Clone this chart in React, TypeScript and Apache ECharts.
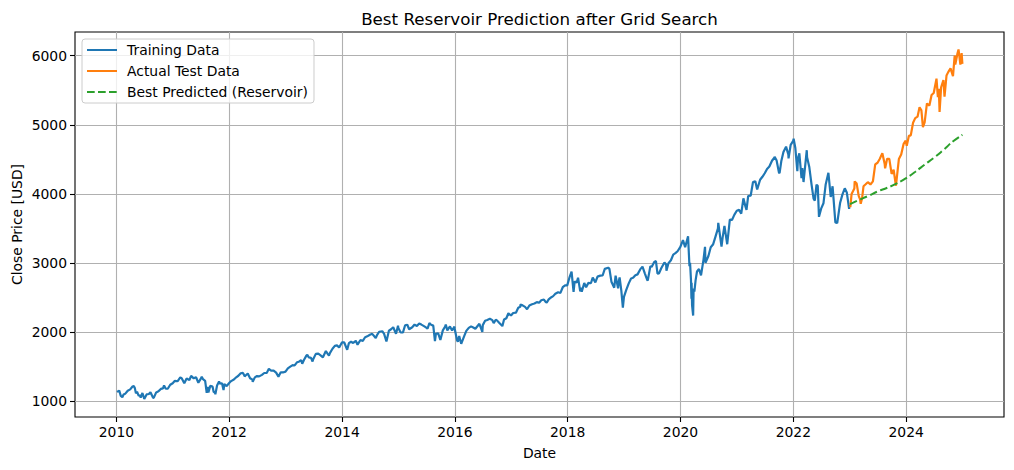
import React, { useEffect, useRef } from "react";
import * as echarts from "echarts";

const TITLE = "Best Reservoir Prediction after Grid Search";
const X_LABEL = "Date";
const Y_LABEL = "Close Price [USD]";
const X_TICKS = [2010, 2012, 2014, 2016, 2018, 2020, 2022, 2024];
const Y_TICKS = [1000, 2000, 3000, 4000, 5000, 6000];
const SERIES_NAMES = ["Training Data", "Actual Test Data", "Best Predicted (Reservoir)"];

const trainingData: [string, number][] = [
  ["2010-01-04", 1133], ["2010-01-19", 1150], ["2010-01-29", 1074], ["2010-02-08", 1056], ["2010-02-16", 1094], ["2010-02-26", 1104],
  ["2010-03-15", 1150], ["2010-03-31", 1169], ["2010-04-15", 1211], ["2010-04-23", 1217], ["2010-04-30", 1187], ["2010-05-07", 1111],
  ["2010-05-14", 1136], ["2010-05-25", 1074], ["2010-05-31", 1089], ["2010-06-07", 1050], ["2010-06-18", 1117], ["2010-06-30", 1031],
  ["2010-07-02", 1022], ["2010-07-15", 1096], ["2010-07-30", 1102], ["2010-08-09", 1128], ["2010-08-26", 1047], ["2010-08-31", 1049],
  ["2010-09-15", 1125], ["2010-09-30", 1141], ["2010-10-15", 1176], ["2010-10-29", 1183], ["2010-11-05", 1225], ["2010-11-16", 1178],
  ["2010-11-30", 1181], ["2010-12-15", 1236], ["2010-12-31", 1258],
  ["2011-01-14", 1293], ["2011-01-31", 1286], ["2011-02-18", 1343], ["2011-02-28", 1327], ["2011-03-16", 1257], ["2011-03-31", 1326],
  ["2011-04-18", 1305], ["2011-04-29", 1364], ["2011-05-16", 1329], ["2011-05-31", 1345], ["2011-06-15", 1265], ["2011-06-30", 1321],
  ["2011-07-07", 1353], ["2011-07-15", 1316], ["2011-07-29", 1292], ["2011-08-08", 1119], ["2011-08-15", 1204], ["2011-08-19", 1124],
  ["2011-08-31", 1219], ["2011-09-15", 1209], ["2011-09-22", 1130], ["2011-09-30", 1131], ["2011-10-03", 1099], ["2011-10-14", 1225],
  ["2011-10-27", 1285], ["2011-10-31", 1253], ["2011-11-15", 1258], ["2011-11-25", 1159], ["2011-11-30", 1247], ["2011-12-15", 1216],
  ["2011-12-30", 1258],
  ["2012-01-13", 1289], ["2012-01-31", 1312], ["2012-02-15", 1344], ["2012-02-29", 1366], ["2012-03-15", 1402], ["2012-03-30", 1408],
  ["2012-04-10", 1358], ["2012-04-16", 1370], ["2012-04-30", 1398], ["2012-05-15", 1331], ["2012-05-31", 1310], ["2012-06-01", 1278],
  ["2012-06-15", 1343], ["2012-06-29", 1362], ["2012-07-13", 1357], ["2012-07-31", 1379], ["2012-08-15", 1406], ["2012-08-31", 1407],
  ["2012-09-14", 1466], ["2012-09-28", 1441], ["2012-10-15", 1441], ["2012-10-31", 1412], ["2012-11-15", 1353], ["2012-11-30", 1416],
  ["2012-12-14", 1414], ["2012-12-31", 1426],
  ["2013-01-15", 1473], ["2013-01-31", 1498], ["2013-02-15", 1520], ["2013-02-28", 1515], ["2013-03-15", 1561], ["2013-03-28", 1569],
  ["2013-04-11", 1593], ["2013-04-18", 1541], ["2013-04-30", 1598], ["2013-05-15", 1658], ["2013-05-21", 1669], ["2013-05-31", 1631],
  ["2013-06-14", 1626], ["2013-06-24", 1573], ["2013-06-28", 1606], ["2013-07-15", 1683], ["2013-07-31", 1686], ["2013-08-15", 1661],
  ["2013-08-30", 1633], ["2013-09-18", 1725], ["2013-09-30", 1682], ["2013-10-08", 1656], ["2013-10-15", 1698], ["2013-10-31", 1757],
  ["2013-11-15", 1798], ["2013-11-29", 1806], ["2013-12-13", 1775], ["2013-12-31", 1848],
  ["2014-01-15", 1848], ["2014-02-03", 1742], ["2014-02-14", 1838], ["2014-02-28", 1859], ["2014-03-14", 1841], ["2014-03-31", 1872],
  ["2014-04-11", 1816], ["2014-04-30", 1884], ["2014-05-15", 1870], ["2014-05-30", 1924], ["2014-06-13", 1937], ["2014-06-30", 1960],
  ["2014-07-15", 1973], ["2014-07-31", 1931], ["2014-08-07", 1910], ["2014-08-15", 1955], ["2014-08-29", 2003], ["2014-09-18", 2011],
  ["2014-09-30", 1972], ["2014-10-15", 1862], ["2014-10-31", 2018], ["2014-11-14", 2039], ["2014-11-28", 2068], ["2014-12-16", 1973],
  ["2014-12-29", 2091], ["2014-12-31", 2059],
  ["2015-01-15", 1992], ["2015-01-30", 1995], ["2015-02-13", 2097], ["2015-02-27", 2105], ["2015-03-11", 2040], ["2015-03-31", 2068],
  ["2015-04-15", 2107], ["2015-04-30", 2086], ["2015-05-15", 2123], ["2015-05-29", 2107], ["2015-06-15", 2085], ["2015-06-30", 2063],
  ["2015-07-08", 2047], ["2015-07-20", 2128], ["2015-07-31", 2104], ["2015-08-14", 2092], ["2015-08-25", 1868], ["2015-08-31", 1972],
  ["2015-09-15", 1979], ["2015-09-29", 1884], ["2015-10-15", 2023], ["2015-10-30", 2079], ["2015-11-03", 2109], ["2015-11-13", 2023],
  ["2015-11-30", 2080], ["2015-12-14", 2022], ["2015-12-29", 2078], ["2015-12-31", 2044],
  ["2016-01-15", 1880], ["2016-01-20", 1859], ["2016-01-29", 1940], ["2016-02-11", 1829], ["2016-02-29", 1932], ["2016-03-15", 2015],
  ["2016-03-31", 2060], ["2016-04-15", 2081], ["2016-04-29", 2065], ["2016-05-13", 2047], ["2016-05-31", 2097], ["2016-06-08", 2119],
  ["2016-06-27", 2001], ["2016-06-30", 2099], ["2016-07-15", 2162], ["2016-07-29", 2174], ["2016-08-15", 2191], ["2016-08-31", 2171],
  ["2016-09-09", 2128], ["2016-09-22", 2177], ["2016-09-30", 2168], ["2016-10-14", 2133], ["2016-11-04", 2085], ["2016-11-15", 2180],
  ["2016-11-30", 2199], ["2016-12-13", 2271], ["2016-12-30", 2239],
  ["2017-01-13", 2275], ["2017-01-31", 2279], ["2017-02-15", 2350], ["2017-02-28", 2364], ["2017-03-01", 2396], ["2017-03-15", 2385],
  ["2017-03-31", 2363], ["2017-04-13", 2329], ["2017-04-28", 2384], ["2017-05-15", 2402], ["2017-05-31", 2412], ["2017-06-15", 2432],
  ["2017-06-30", 2423], ["2017-07-14", 2459], ["2017-07-31", 2470], ["2017-08-10", 2438], ["2017-08-18", 2426], ["2017-08-31", 2472],
  ["2017-09-15", 2500], ["2017-09-29", 2519], ["2017-10-13", 2553], ["2017-10-31", 2575], ["2017-11-15", 2565], ["2017-11-30", 2648],
  ["2017-12-15", 2676], ["2017-12-29", 2674],
  ["2018-01-12", 2786], ["2018-01-26", 2873], ["2018-02-08", 2581], ["2018-02-15", 2732], ["2018-02-28", 2714], ["2018-03-09", 2786],
  ["2018-03-23", 2588], ["2018-03-29", 2641], ["2018-04-02", 2582], ["2018-04-18", 2708], ["2018-04-30", 2648], ["2018-05-15", 2711],
  ["2018-05-31", 2705], ["2018-06-12", 2787], ["2018-06-29", 2718], ["2018-07-13", 2801], ["2018-07-31", 2816], ["2018-08-15", 2818],
  ["2018-08-29", 2914], ["2018-09-20", 2931], ["2018-09-28", 2914], ["2018-10-11", 2728], ["2018-10-29", 2641], ["2018-11-07", 2814],
  ["2018-11-23", 2633], ["2018-11-30", 2760], ["2018-12-03", 2790], ["2018-12-14", 2600], ["2018-12-24", 2351], ["2018-12-31", 2507],
  ["2019-01-15", 2610], ["2019-01-31", 2704], ["2019-02-15", 2775], ["2019-02-28", 2784], ["2019-03-15", 2822], ["2019-03-29", 2834],
  ["2019-04-15", 2906], ["2019-04-30", 2946], ["2019-05-15", 2850], ["2019-05-31", 2752], ["2019-06-03", 2744], ["2019-06-20", 2954],
  ["2019-06-28", 2942], ["2019-07-15", 3014], ["2019-07-26", 3026], ["2019-08-05", 2845], ["2019-08-15", 2848], ["2019-08-30", 2926],
  ["2019-09-19", 3006], ["2019-09-30", 2977], ["2019-10-02", 2888], ["2019-10-15", 2996], ["2019-10-31", 3038], ["2019-11-15", 3120],
  ["2019-11-29", 3141], ["2019-12-13", 3169], ["2019-12-31", 3231],
  ["2020-01-17", 3330], ["2020-01-31", 3226], ["2020-02-19", 3386], ["2020-02-28", 2954], ["2020-03-03", 3003], ["2020-03-09", 2747],
  ["2020-03-12", 2481], ["2020-03-13", 2711], ["2020-03-16", 2386], ["2020-03-23", 2237], ["2020-03-26", 2630], ["2020-03-31", 2585],
  ["2020-04-08", 2750], ["2020-04-17", 2875], ["2020-04-30", 2912], ["2020-05-13", 2820], ["2020-05-29", 3044], ["2020-06-08", 3232],
  ["2020-06-11", 3002], ["2020-06-30", 3100], ["2020-07-15", 3227], ["2020-07-31", 3271], ["2020-08-14", 3373], ["2020-08-31", 3500],
  ["2020-09-02", 3580], ["2020-09-23", 3237], ["2020-09-30", 3363], ["2020-10-12", 3535], ["2020-10-30", 3270], ["2020-11-16", 3627],
  ["2020-11-30", 3622], ["2020-12-15", 3695], ["2020-12-31", 3756],
  ["2021-01-15", 3768], ["2021-01-29", 3714], ["2021-02-12", 3934], ["2021-02-26", 3811], ["2021-03-04", 3768], ["2021-03-15", 3969],
  ["2021-03-31", 3973], ["2021-04-15", 4170], ["2021-04-30", 4181], ["2021-05-12", 4063], ["2021-05-31", 4204], ["2021-06-15", 4247],
  ["2021-06-30", 4298], ["2021-07-15", 4360], ["2021-07-30", 4395], ["2021-08-16", 4479], ["2021-08-31", 4523], ["2021-09-02", 4537],
  ["2021-09-15", 4481], ["2021-09-30", 4308], ["2021-10-04", 4301], ["2021-10-15", 4471], ["2021-10-29", 4605], ["2021-11-15", 4683],
  ["2021-11-30", 4567], ["2021-12-01", 4513], ["2021-12-15", 4710], ["2021-12-31", 4766],
  ["2022-01-03", 4797], ["2022-01-14", 4663], ["2022-01-27", 4327], ["2022-01-31", 4516], ["2022-02-09", 4587], ["2022-02-23", 4226],
  ["2022-02-28", 4374], ["2022-03-08", 4171], ["2022-03-29", 4632], ["2022-03-31", 4530], ["2022-04-14", 4393], ["2022-04-29", 4132],
  ["2022-05-12", 3930], ["2022-05-20", 3901], ["2022-05-31", 4132], ["2022-06-08", 4116], ["2022-06-16", 3667], ["2022-06-30", 3785],
  ["2022-07-15", 3863], ["2022-07-29", 4130], ["2022-08-16", 4305], ["2022-08-31", 3955], ["2022-09-12", 4110], ["2022-09-30", 3586],
  ["2022-10-12", 3577], ["2022-10-31", 3872], ["2022-11-15", 3992], ["2022-11-30", 4080], ["2022-12-13", 4020], ["2022-12-28", 3783],
  ["2022-12-30", 3840],
];

const testData: [string, number][] = [
  ["2023-01-03", 3825], ["2023-01-05", 3808], ["2023-01-13", 3999], ["2023-01-31", 4077], ["2023-02-02", 4180], ["2023-02-15", 4148],
  ["2023-02-28", 3970], ["2023-03-09", 3919], ["2023-03-13", 3856], ["2023-03-22", 3937], ["2023-03-31", 4109], ["2023-04-14", 4138],
  ["2023-04-28", 4169], ["2023-05-15", 4136], ["2023-05-31", 4180], ["2023-06-15", 4426], ["2023-06-30", 4450], ["2023-07-14", 4505],
  ["2023-07-31", 4589], ["2023-08-15", 4437], ["2023-08-18", 4370], ["2023-08-31", 4508], ["2023-09-14", 4505], ["2023-09-29", 4288],
  ["2023-10-12", 4349], ["2023-10-27", 4117], ["2023-11-15", 4503], ["2023-11-30", 4568], ["2023-12-15", 4719], ["2023-12-29", 4770],
  ["2024-01-05", 4697], ["2024-01-19", 4840], ["2024-01-31", 4846], ["2024-02-15", 5030], ["2024-02-29", 5096], ["2024-03-15", 5117],
  ["2024-03-28", 5254], ["2024-04-09", 5209], ["2024-04-19", 4967], ["2024-04-30", 5036], ["2024-05-15", 5308], ["2024-05-31", 5278],
  ["2024-06-14", 5431], ["2024-06-28", 5460], ["2024-07-16", 5667], ["2024-07-25", 5399], ["2024-07-31", 5522], ["2024-08-05", 5186],
  ["2024-08-15", 5543], ["2024-08-30", 5648], ["2024-09-06", 5408], ["2024-09-19", 5713], ["2024-09-30", 5762], ["2024-10-15", 5816],
  ["2024-10-31", 5705], ["2024-11-11", 6001], ["2024-11-15", 5871], ["2024-11-29", 6032], ["2024-12-06", 6090], ["2024-12-18", 5872],
  ["2024-12-26", 6037], ["2024-12-31", 5882],
];

const predictedData: [string, number][] = [
  ["2023-01-03", 3852], ["2023-03-01", 3910], ["2023-05-01", 3970], ["2023-07-01", 4035], ["2023-09-01", 4088], ["2023-11-01", 4150],
  ["2024-01-01", 4228], ["2024-03-01", 4320], ["2024-05-01", 4425], ["2024-07-01", 4525], ["2024-09-01", 4640], ["2024-11-01", 4760],
  ["2024-12-31", 4855],
];

const FONT = "'DejaVu Sans', sans-serif";

function toDecimalYear(s: string): number {
  const [y, m, d] = s.split("-").map(Number);
  const start = Date.UTC(y, 0, 1);
  const end = Date.UTC(y + 1, 0, 1);
  return y + (Date.UTC(y, m - 1, d) - start) / (end - start);
}

function toPoints(rows: [string, number][]): [number, number][] {
  return rows.map(([d, v]) => [toDecimalYear(d), v]);
}

export default function App() {
  const ref = useRef<HTMLDivElement>(null);
  useEffect(() => {
    if (!ref.current) return;
    const chart = echarts.init(ref.current, undefined, { renderer: "svg" });
    const gridLeft = 75;
    const gridRight = 10;
    const gridTop = 32;
    const gridBottom = 53;
    const plotCx = gridLeft + (1014 - gridLeft - gridRight) / 2;
    const plotCy = gridTop + (470 - gridTop - gridBottom) / 2;
    const splitLine = { show: true, lineStyle: { color: "#b0b0b0", width: 1.1 } };
    const tick = { show: true, length: 5, inside: false, lineStyle: { color: "#000", width: 1.1 } };
    const label = { color: "#000", fontSize: 13.9, fontFamily: FONT };
    chart.setOption({
      animation: false,
      backgroundColor: "#ffffff",
      grid: {
        left: gridLeft,
        right: gridRight,
        top: gridTop,
        bottom: gridBottom,
        show: true,
        borderColor: "#000",
        borderWidth: 1.1,
        backgroundColor: "transparent",
      },
      xAxis: {
        type: "value",
        min: 2009.265,
        max: 2025.735,
        axisLine: { show: false },
        axisTick: { ...tick, customValues: X_TICKS },
        axisLabel: { ...label, margin: 8, customValues: X_TICKS, formatter: (v: number) => String(v) },
        splitLine: splitLine,
      },
      yAxis: {
        type: "value",
        min: 769,
        max: 6343,
        axisLine: { show: false },
        axisTick: { ...tick, customValues: Y_TICKS },
        axisLabel: { ...label, margin: 8, customValues: Y_TICKS, formatter: (v: number) => String(v) },
        splitLine: splitLine,
      },
      legend: {
        orient: "vertical",
        left: 82,
        top: 39,
        padding: [4, 6, 4, 4],
        itemWidth: 30,
        itemHeight: 14,
        itemGap: 7,
        backgroundColor: "rgba(255,255,255,0.8)",
        borderColor: "#cccccc",
        borderWidth: 1,
        borderRadius: 3,
        itemStyle: { opacity: 0 },
        textStyle: { color: "#000", fontSize: 13.9, fontFamily: FONT, padding: [0, 0, 0, 5] },
        data: SERIES_NAMES,
      },
      graphic: [
        {
          type: "text",
          x: plotCx,
          y: 19,
          style: { text: TITLE, fontSize: 16.7, fontFamily: FONT, fill: "#000", align: "center", verticalAlign: "middle" },
        },
        {
          type: "text",
          x: plotCx,
          y: 453,
          style: { text: X_LABEL, fontSize: 13.9, fontFamily: FONT, fill: "#000", align: "center", verticalAlign: "middle" },
        },
        {
          type: "text",
          x: 16.5,
          y: plotCy,
          rotation: Math.PI / 2,
          style: { text: Y_LABEL, fontSize: 13.9, fontFamily: FONT, fill: "#000", align: "center", verticalAlign: "middle" },
        },
      ],
      series: [
        {
          name: SERIES_NAMES[0],
          type: "line",
          data: toPoints(trainingData),
          symbol: "none",
          showSymbol: false,
          color: "#1f77b4",
          lineStyle: { color: "#1f77b4", width: 2.2 },
          z: 2,
        },
        {
          name: SERIES_NAMES[1],
          type: "line",
          data: toPoints(testData),
          symbol: "none",
          showSymbol: false,
          color: "#ff7f0e",
          lineStyle: { color: "#ff7f0e", width: 2.2 },
          z: 3,
        },
        {
          name: SERIES_NAMES[2],
          type: "line",
          data: toPoints(predictedData),
          symbol: "none",
          showSymbol: false,
          smooth: true,
          color: "#2ca02c",
          lineStyle: { color: "#2ca02c", width: 2, type: [7.7, 3.3] },
          z: 4,
        },
      ],
    });
    return () => chart.dispose();
  }, []);
  return (
    <div
      ref={ref}
      style={{ position: "absolute", left: 0, top: 0, width: 1014, height: 470, background: "#fff" }}
    />
  );
}
